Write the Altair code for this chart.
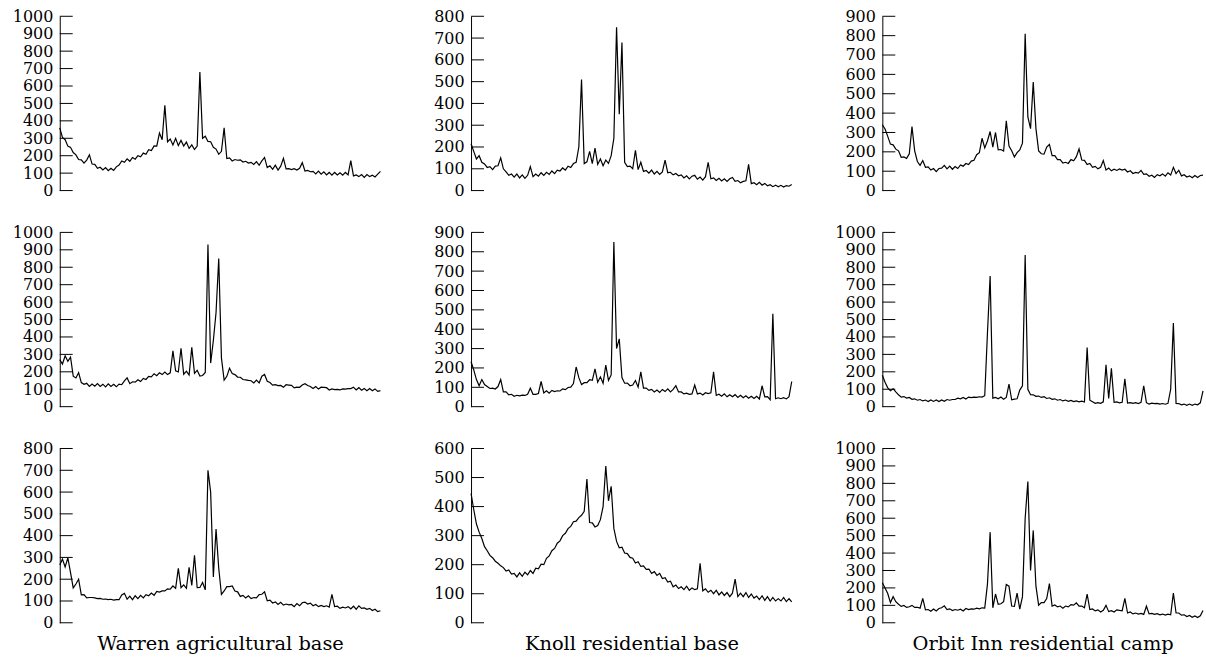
import altair as alt
import pandas as pd

# ---- column titles and y-axis maxima ----
columns = ["Warren agricultural base", "Knoll residential base", "Orbit Inn residential camp"]
ymax = [[1000, 800, 900], [1000, 900, 1000], [800, 600, 1000]]

# ---- series values (120 samples each) ----
warren_1 = [360, 305, 292, 255, 248, 218, 205, 178, 176, 158, 175, 205, 152, 150, 128, 134, 118, 132, 114, 128,
            116, 136, 146, 170, 162, 182, 168, 190, 180, 200, 194, 215, 208, 234, 230, 256, 255, 330, 292, 490,
            280, 296, 262, 300, 258, 288, 255, 278, 242, 262, 236, 255, 680, 300, 312, 282, 280, 248, 238, 208,
            225, 360, 184, 188, 170, 178, 174, 176, 164, 168, 158, 162, 150, 166, 145, 170, 190, 132, 142, 122,
            146, 118, 140, 185, 124, 126, 120, 126, 118, 128, 160, 112, 116, 108, 110, 96, 112, 94, 108, 90,
            104, 88, 104, 90, 102, 88, 104, 90, 172, 84, 90, 80, 92, 76, 92, 80, 88, 78, 94, 110]
knoll_1 = [215, 180, 145, 160, 130, 122, 106, 110, 96, 112, 114, 150, 100, 86, 70, 76, 62, 76, 58, 72,
           56, 70, 110, 64, 76, 66, 82, 70, 84, 74, 90, 78, 94, 90, 104, 94, 112, 106, 124, 130,
           200, 510, 124, 132, 180, 124, 195, 120, 145, 114, 140, 125, 160, 240, 750, 350, 680, 130, 110, 112,
           100, 185, 96, 130, 88, 92, 80, 94, 76, 88, 74, 86, 140, 82, 84, 72, 78, 68, 72, 58,
           68, 54, 66, 70, 52, 62, 48, 64, 130, 54, 58, 46, 56, 44, 54, 42, 54, 60, 42, 46,
           36, 42, 45, 120, 32, 36, 27, 38, 25, 33, 22, 27, 18, 25, 17, 24, 16, 23, 20, 28]
orbit_1 = [340, 318, 280, 240, 236, 214, 205, 172, 174, 166, 190, 330, 205, 150, 130, 155, 120, 122, 106, 114,
           98, 114, 116, 130, 112, 126, 110, 124, 114, 132, 126, 140, 134, 152, 156, 185, 196, 270, 220, 256,
           305, 224, 300, 210, 212, 204, 360, 230, 206, 174, 196, 210, 245, 810, 380, 320, 560, 320, 205, 190,
           188, 225, 238, 180, 180, 160, 160, 142, 146, 140, 160, 154, 175, 215, 158, 156, 134, 140, 120, 125,
           112, 120, 155, 106, 116, 102, 110, 104, 112, 106, 110, 96, 102, 88, 94, 90, 104, 84, 86, 74,
           79, 68, 82, 76, 86, 74, 92, 80, 120, 88, 105, 76, 82, 70, 76, 66, 78, 68, 78, 80]
warren_2 = [270, 245, 292, 260, 284, 175, 165, 195, 138, 128, 134, 116, 130, 118, 133, 116, 129, 114, 131, 116,
            128, 114, 129, 126, 148, 165, 132, 143, 141, 154, 144, 162, 156, 174, 171, 189, 178, 194, 184, 199,
            184, 194, 320, 206, 199, 335, 186, 204, 181, 340, 191, 209, 176, 179, 196, 930, 250, 380, 540, 850,
            280, 152, 174, 220, 190, 184, 170, 169, 156, 154, 151, 149, 136, 152, 136, 175, 185, 146, 139, 124,
            126, 121, 122, 111, 126, 124, 122, 108, 112, 111, 124, 132, 121, 116, 104, 116, 101, 112, 111, 109,
            96, 102, 98, 99, 96, 102, 101, 104, 104, 112, 96, 109, 94, 104, 92, 104, 91, 102, 88, 92]
knoll_2 = [232, 190, 140, 108, 140, 114, 104, 94, 96, 91, 104, 140, 76, 76, 61, 64, 54, 59, 56, 60,
           58, 64, 95, 64, 64, 68, 130, 71, 82, 70, 84, 78, 82, 81, 92, 88, 99, 101, 119, 205,
           150, 114, 124, 124, 139, 136, 195, 126, 154, 121, 215, 136, 164, 850, 300, 350, 150, 121, 122, 108,
           112, 135, 101, 180, 96, 96, 84, 89, 76, 86, 74, 89, 78, 92, 76, 89, 108, 76, 76, 66,
           70, 64, 66, 112, 66, 70, 60, 72, 68, 72, 180, 58, 64, 54, 66, 51, 62, 51, 62, 48,
           59, 46, 56, 44, 54, 42, 54, 40, 108, 51, 52, 36, 480, 41, 46, 41, 46, 40, 52, 130]
orbit_2 = [180, 140, 108, 92, 103, 85, 68, 55, 58, 49, 53, 42, 45, 37, 41, 33, 38, 29, 39, 30,
           38, 29, 39, 31, 41, 37, 41, 41, 49, 45, 53, 44, 55, 52, 55, 53, 57, 55, 63, 420,
           750, 49, 53, 45, 55, 43, 53, 130, 39, 43, 45, 95, 120, 870, 100, 69, 68, 59, 61, 53,
           57, 47, 51, 42, 45, 37, 41, 33, 38, 31, 36, 29, 33, 28, 32, 27, 340, 37, 28, 19,
           23, 19, 28, 240, 47, 220, 25, 27, 22, 25, 160, 21, 23, 19, 23, 18, 25, 120, 23, 15,
           20, 17, 19, 15, 18, 14, 19, 100, 480, 19, 18, 11, 15, 8, 15, 8, 15, 11, 22, 90]
warren_3 = [265, 292, 256, 298, 230, 160, 178, 200, 128, 129, 114, 116, 116, 114, 111, 112, 108, 109, 106, 108,
            104, 106, 106, 128, 135, 108, 122, 106, 124, 111, 126, 114, 129, 124, 136, 126, 144, 141, 146, 146,
            156, 154, 169, 158, 250, 161, 174, 158, 255, 171, 310, 161, 162, 185, 151, 700, 600, 210, 430, 250,
            130, 146, 166, 166, 169, 146, 142, 121, 126, 114, 124, 111, 116, 114, 129, 131, 142, 101, 104, 91,
            96, 84, 94, 81, 86, 82, 84, 74, 88, 78, 92, 95, 86, 90, 78, 84, 74, 80, 74, 78,
            72, 130, 74, 76, 66, 72, 68, 74, 64, 76, 62, 78, 66, 68, 62, 66, 56, 62, 51, 55]
knoll_3 = [445, 390, 340, 312, 290, 262, 248, 232, 224, 212, 205, 196, 190, 178, 182, 168, 170, 158, 172, 160,
           174, 165, 180, 170, 188, 186, 202, 200, 222, 230, 248, 256, 274, 282, 300, 308, 324, 332, 348, 350,
           362, 370, 384, 495, 345, 344, 330, 335, 355, 400, 540, 420, 470, 325, 280, 258, 260, 240, 238, 225,
           222, 206, 210, 194, 196, 184, 185, 170, 176, 163, 170, 152, 155, 140, 143, 124, 130, 118, 124, 114,
           126, 112, 120, 114, 117, 205, 110, 117, 105, 112, 100, 112, 96, 106, 94, 104, 90, 102, 150, 90,
           102, 90, 104, 87, 99, 85, 92, 80, 93, 77, 90, 75, 87, 75, 83, 75, 87, 73, 83, 72]
orbit_3 = [230, 200, 168, 116, 150, 121, 106, 94, 99, 88, 92, 100, 88, 89, 84, 140, 74, 76, 66, 79,
           68, 82, 86, 97, 76, 80, 70, 76, 72, 78, 68, 82, 76, 80, 78, 84, 80, 86, 84, 220,
           520, 86, 165, 106, 109, 121, 220, 210, 96, 94, 170, 78, 150, 600, 810, 300, 530, 210, 101, 116,
           116, 139, 225, 96, 102, 91, 96, 84, 96, 91, 104, 101, 114, 96, 96, 86, 165, 76, 79, 68,
           74, 62, 72, 100, 64, 69, 62, 74, 71, 69, 140, 56, 62, 51, 56, 50, 54, 48, 95, 51,
           54, 48, 52, 46, 50, 44, 49, 46, 170, 56, 56, 44, 46, 36, 42, 32, 39, 30, 40, 70]

series = [[warren_1, knoll_1, orbit_1], [warren_2, knoll_2, orbit_2], [warren_3, knoll_3, orbit_3]]

FONT = "DejaVu Serif"
W, H = 322, 175


def panel(vals, top, title=None):
    df = pd.DataFrame({"i": list(range(len(vals))), "v": vals})
    tick_vals = list(range(0, top + 1, 100))
    tdf = pd.DataFrame({"t": tick_vals})
    ysc = alt.Scale(domain=[0, top], nice=False, zero=True)
    yaxis = alt.Axis(values=tick_vals, ticks=False, grid=False, domain=True,
                     domainColor="black", domainWidth=1, labelFont=FONT, labelFontSize=16,
                     labelColor="black", labelPadding=7, title=None, format="d",
                     minExtent=60, maxExtent=60, labelOverlap=False)
    if title:
        xaxis = alt.Axis(labels=False, ticks=False, domain=False, grid=False, title=title,
                         titleFont=FONT, titleFontSize=19.5, titleFontWeight="normal",
                         titleColor="black", titlePadding=12)
    else:
        xaxis = None
    line = alt.Chart(df).mark_line(color="black", strokeWidth=1.2).encode(
        x=alt.X("i:Q", scale=alt.Scale(domain=[0, len(vals) - 1], nice=False, zero=False), axis=xaxis),
        y=alt.Y("v:Q", scale=ysc, axis=yaxis),
    )
    tk = alt.Chart(tdf).mark_rule(color="black", strokeWidth=1).encode(
        y=alt.Y("t:Q", scale=ysc, axis=yaxis),
        x=alt.value(0),
        x2=alt.value(13),
    )
    return alt.layer(line, tk).properties(width=W, height=H)


rows = []
for r in range(3):
    row = []
    for c in range(3):
        row.append(panel(series[r][c], ymax[r][c], columns[c] if r == 2 else None))
    rows.append(alt.hconcat(*row, spacing=28))

chart = alt.vconcat(*rows, spacing=26).properties(
    padding={"left": 0, "top": 7, "right": 0, "bottom": 0},
    background="white",
).configure_view(stroke=None)

chart.save("out.html", embed_options={"renderer": "svg", "actions": False})
